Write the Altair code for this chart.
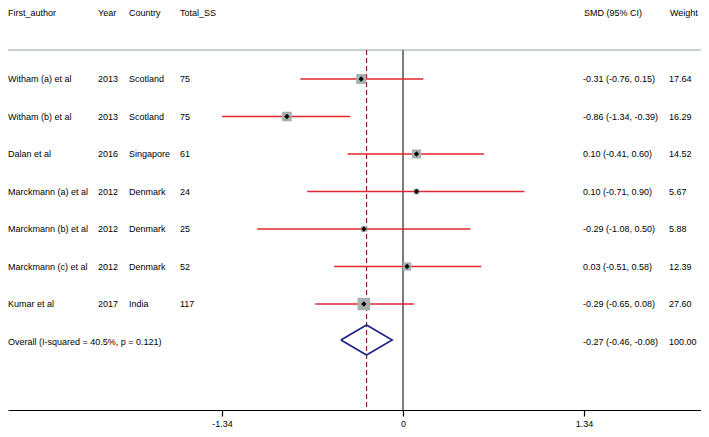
import altair as alt
import pandas as pd

# ---- data ----
authors = ["Witham (a) et al", "Witham (b) et al", "Dalan et al", "Marckmann (a) et al",
           "Marckmann (b) et al", "Marckmann (c) et al", "Kumar et al"]
years = [2013, 2013, 2016, 2012, 2012, 2012, 2017]
countries = ["Scotland", "Scotland", "Singapore", "Denmark", "Denmark", "Denmark", "India"]
total_ss = [75, 75, 61, 24, 25, 52, 117]
smd = [-0.31, -0.86, 0.10, 0.10, -0.29, 0.03, -0.29]
ci_low = [-0.76, -1.34, -0.41, -0.71, -1.08, -0.51, -0.65]
ci_high = [0.15, -0.39, 0.60, 0.90, 0.50, 0.58, 0.08]
weights = [17.64, 16.29, 14.52, 5.67, 5.88, 12.39, 27.60]

overall_label = "Overall  (I-squared = 40.5%, p = 0.121)"
overall_smd = -0.27
overall_low = -0.46
overall_high = -0.08
overall_weight = 100.00

headers = ["First_author", "Year", "Country", "Total_SS", "SMD (95% CI)", "Weight"]
tick_values = [-1.34, 0, 1.34]

# ---- layout / style ----
W, H = 693, 402
ZERO_PX = 395
PX_PER_UNIT = 135
ROW0_PX = 71
ROW_STEP = 37.5
FONT = "Liberation Sans"
FS = 9
col_x = [0, 90, 121, 172, 575, 661]
header_x = [0, 90, 121, 172, 576, 662]
n = len(authors)

rows = pd.DataFrame({
    "row": list(range(n)),
    "author": authors,
    "year": [str(y) for y in years],
    "country": countries,
    "total": [str(t) for t in total_ss],
    "smd": smd,
    "lo": ci_low,
    "hi": ci_high,
    "weight": weights,
    "ci": [f"{s:.2f} ({l:.2f}, {h:.2f})" for s, l, h in zip(smd, ci_low, ci_high)],
    "wtxt": [f"{w:.2f}" for w in weights],
})
overall = pd.DataFrame({
    "row": [n],
    "author": [overall_label],
    "ci": [f"{overall_smd:.2f} ({overall_low:.2f}, {overall_high:.2f})"],
    "wtxt": [f"{overall_weight:.2f}"],
    "smd": [overall_smd],
})
diamond = pd.DataFrame({
    "order": [0, 1, 2, 3, 4],
    "x": [overall_low, overall_smd, overall_high, overall_smd, overall_low],
    "row": [n - 0.04, n - 0.44, n - 0.04, n + 0.36, n - 0.04],
})

xscale = alt.Scale(domain=[-ZERO_PX / PX_PER_UNIT, (W - ZERO_PX) / PX_PER_UNIT], zero=False, nice=False)
yscale = alt.Scale(domain=[-ROW0_PX / ROW_STEP, (H - ROW0_PX) / ROW_STEP], reverse=True, zero=False, nice=False)
xaxis = alt.Axis(values=tick_values, title=None, grid=False, domainColor="black",
                 domainWidth=1.2, tickColor="black", tickSize=6, tickWidth=1.2,
                 labelFontSize=FS, labelFont=FONT, labelColor="black", labelPadding=3,
                 labelExpr="datum.value + ''", labelFlush=False)


def X(field):
    return alt.X(field, type="quantitative", scale=xscale, axis=xaxis)


Y = alt.Y("row:Q", scale=yscale, axis=None)

base = alt.Chart(rows)

ci_rules = base.mark_rule(color="#e3262c", strokeWidth=1.6).encode(
    x=X("lo"), x2=alt.X2("hi"), y=Y)

squares = base.mark_square(color="#a9b0b0", opacity=1).encode(
    x=X("smd"), y=Y,
    size=alt.Size("weight:Q", scale=alt.Scale(domain=[0, 30], range=[0, 170]), legend=None))

dots = base.mark_point(shape="diamond", filled=True, size=28, color="black", opacity=1).encode(
    x=X("smd"), y=Y)

zero_line = alt.Chart(pd.DataFrame({"v": [0.0]})).mark_rule(color="#5c5c5c", strokeWidth=1.6).encode(
    x=X("v"), y=alt.value(42), y2=alt.value(H))

pooled_line = alt.Chart(overall).mark_rule(color="#8b1c2c", strokeWidth=1.2, strokeDash=[5, 3]).encode(
    x=X("smd"), y=alt.value(42), y2=alt.value(H))

header_line = alt.Chart(overall).mark_rule(color="#b9c2c6", strokeWidth=1.5).encode(
    x=alt.value(0), x2=alt.value(W), y=alt.value(42))

diamond_layer = alt.Chart(diamond).mark_line(color="#1c2385", strokeWidth=1.6).encode(
    x=X("x"), y=Y, order="order:Q")

text_kw = dict(align="left", baseline="middle", font=FONT, fontSize=FS, color="black")

text_layers = []
for field, xp in zip(["author", "year", "country", "total", "ci", "wtxt"], col_x):
    text_layers.append(base.mark_text(**text_kw).encode(x=alt.value(xp), y=Y, text=f"{field}:N"))
for field, xp in zip(["author", "ci", "wtxt"], [col_x[0], col_x[4], col_x[5]]):
    text_layers.append(alt.Chart(overall).mark_text(**text_kw).encode(x=alt.value(xp), y=Y, text=f"{field}:N"))

header_layers = []
for lab, xp in zip(headers, header_x):
    header_layers.append(
        alt.Chart(pd.DataFrame({"label": [lab]})).mark_text(**text_kw).encode(
            x=alt.value(xp), y=alt.value(4.5), text="label:N"))

chart = alt.layer(
    header_line, zero_line, pooled_line, ci_rules, squares, dots, diamond_layer,
    *text_layers, *header_layers
).properties(
    width=W, height=H,
    autosize=alt.AutoSizeParams(type="none"),
    padding={"left": 0, "top": 0, "right": 0, "bottom": 19},
).configure_view(stroke=None)

chart.save("out.html", embed_options={"renderer": "svg", "actions": False})
